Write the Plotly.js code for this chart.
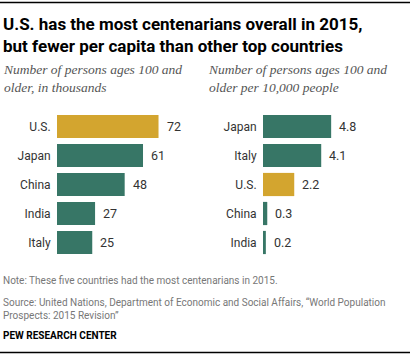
<!DOCTYPE html>
<html>
<head>
<meta charset="utf-8">
<script src="https://cdn.plot.ly/plotly-3.0.1.min.js"></script>
<style>html,body{margin:0;padding:0;background:#fff}#chart{width:410px;height:355px}</style>
</head>
<body>
<div id="chart"></div>
<script>
// Data
var totalCountries = ["U.S.", "Japan", "China", "India", "Italy"];
var totalValues = [72, 61, 48, 27, 25];
var totalLabels = ["72", "61", "48", "27", "25"];
var perCapCountries = ["Japan", "Italy", "U.S.", "China", "India"];
var perCapValues = [4.8, 4.1, 2.2, 0.3, 0.2];
var perCapLabels = ["4.8", "4.1", "2.2", "0.3", "0.2"];
var highlight = "U.S.";

var W = 410, H = 355;
function px(x){return x/W;}
function py(y){return 1 - y/H;}
var GREEN = "#377666", GOLD = "#d3a52f";
var SANS = "Roboto, 'Liberation Sans', Arial, sans-serif";
var SERIF = "'Liberation Serif', Georgia, serif";

function colors(cats){return cats.map(function(c){return c===highlight?GOLD:GREEN;});}

var traces = [
  {type:"bar", orientation:"h", x: totalValues, y: totalCountries, xaxis:"x", yaxis:"y",
   marker:{color: colors(totalCountries)}, hoverinfo:"none"},
  {type:"bar", orientation:"h", x: perCapValues, y: perCapCountries, xaxis:"x2", yaxis:"y2",
   marker:{color: colors(perCapCountries)}, hoverinfo:"none"}
];

var yTop = 112, yBot = 257;
var axisY = {domain:[py(yBot), py(yTop)], autorange:"reversed", type:"category",
  showgrid:false, zeroline:false, showline:false, ticks:"outside", ticklen:3, tickcolor:"rgba(0,0,0,0)",
  tickfont:{family:SANS, size:12, color:"#333"}, fixedrange:true};
var layout = {
  width:W, height:H, margin:{l:0,r:0,t:0,b:0}, showlegend:false,
  paper_bgcolor:"#fff", plot_bgcolor:"#fff", bargap:0.2,
  xaxis:{domain:[px(57), px(57+141)], range:[0,100], visible:false, fixedrange:true},
  yaxis:Object.assign({}, axisY, {anchor:"x"}),
  xaxis2:{domain:[px(263), px(263+142)], range:[0,10], visible:false, fixedrange:true},
  yaxis2:Object.assign({}, axisY, {anchor:"x2"}),
  shapes:[
    {type:"line", xref:"paper", yref:"paper", x0:0, x1:1, y0:py(2.5), y1:py(2.5), line:{color:"#000", width:1.3}},
    {type:"line", xref:"paper", yref:"paper", x0:0, x1:1, y0:py(352.5), y1:py(352.5), line:{color:"#000", width:1.3}}
  ],
  annotations:[]
};

var A = layout.annotations;
function txt(t, x, y, opts){
  A.push(Object.assign({text:t, xref:"paper", yref:"paper", x:px(x), y:py(y), xanchor:"left", yanchor:"top",
    showarrow:false, align:"left"}, opts));
}
txt("<b>U.S. has the most centenarians overall in 2015,</b><br><b>but fewer per capita than other top countries</b>", 1, 12,
  {font:{family:SANS, size:17, color:"#000"}});
txt("<i>Number of persons ages 100 and</i><br><i>older, in thousands</i>", 1, 60,
  {font:{family:SERIF, size:13.5, color:"#555"}});
txt("<i>Number of persons ages 100 and</i><br><i>older per 10,000 people</i>", 206, 60,
  {font:{family:SERIF, size:13.5, color:"#555"}});
txt("Note: These five countries had the most centenarians in 2015.", 1, 273,
  {font:{family:SANS, size:10, color:"#777"}});
txt("Source: United Nations, Department of Economic and Social Affairs, \u201cWorld Population<br>Prospects: 2015 Revision\u201d", 1, 295,
  {font:{family:SANS, size:10, color:"#777"}});
txt("<b>PEW RESEARCH CENTER</b>", 1, 328, {font:{family:SANS, size:10, color:"#000"}});

// value labels from data
totalValues.forEach(function(v,i){
  A.push({text: totalLabels[i], x:v, y: totalCountries[i], xref:"x", yref:"y", xanchor:"left", yanchor:"middle",
    xshift:6, showarrow:false, font:{family:SANS, size:12.5, color:"#333"}});
});
perCapValues.forEach(function(v,i){
  A.push({text: perCapLabels[i], x:v, y: perCapCountries[i], xref:"x2", yref:"y2", xanchor:"left", yanchor:"middle",
    xshift:6, showarrow:false, font:{family:SANS, size:12.5, color:"#333"}});
});

Plotly.newPlot("chart", traces, layout, {displayModeBar:false, staticPlot:true});
</script>
</body>
</html>
